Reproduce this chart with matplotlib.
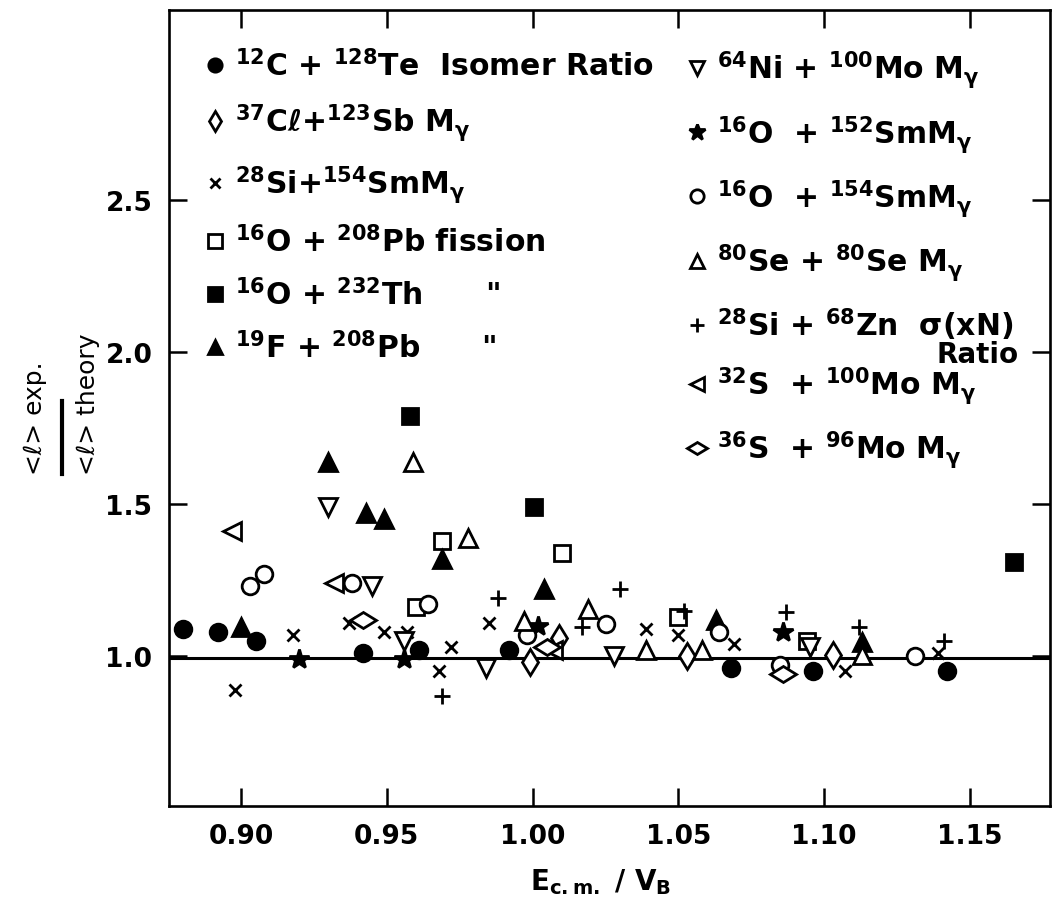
import matplotlib
matplotlib.use('Agg')
import matplotlib.pyplot as plt
from matplotlib.markers import MarkerStyle
from matplotlib.transforms import Affine2D

plt.rcParams['font.family'] = ['DejaVu Sans']
plt.rcParams['mathtext.fontset'] = 'custom'
plt.rcParams['mathtext.rm'] = 'DejaVu Sans:bold'
plt.rcParams['mathtext.it'] = 'DejaVu Sans:bold'
plt.rcParams['mathtext.bf'] = 'DejaVu Sans:bold'
plt.rcParams['mathtext.default'] = 'rm'

# values: x = E_cm / V_B, y = <l>exp / <l>theory
c12_te128_x = [0.880, 0.892, 0.905, 0.942, 0.961, 0.992, 1.068, 1.096, 1.142]
c12_te128_y = [1.09, 1.08, 1.05, 1.01, 1.02, 1.02, 0.96, 0.95, 0.95]

cl37_sb123_x = [0.999, 1.009, 1.053, 1.103]
cl37_sb123_y = [0.98, 1.06, 1.00, 1.005]

si28_sm154_x = [0.898, 0.918, 0.937, 0.949, 0.957, 0.968, 0.972, 0.985, 1.039, 1.050, 1.069, 1.107, 1.139]
si28_sm154_y = [0.89, 1.07, 1.11, 1.08, 1.08, 0.95, 1.03, 1.11, 1.09, 1.07, 1.04, 0.95, 1.01]

o16_pb208_x = [0.960, 0.969, 1.010, 1.050, 1.094]
o16_pb208_y = [1.16, 1.38, 1.34, 1.13, 1.05]

o16_th232_x = [0.958, 1.0005, 1.165]
o16_th232_y = [1.79, 1.49, 1.31]

f19_pb208_x = [0.900, 0.930, 0.943, 0.949, 0.969, 1.004, 1.063, 1.113]
f19_pb208_y = [1.095, 1.64, 1.47, 1.45, 1.32, 1.22, 1.12, 1.045]

ni64_mo100_x = [0.930, 0.945, 0.956, 0.984, 1.028, 1.095]
ni64_mo100_y = [1.49, 1.23, 1.05, 0.96, 1.00, 1.03]

o16_sm152_x = [0.920, 0.956, 1.002, 1.086]
o16_sm152_y = [0.99, 0.99, 1.10, 1.08]

o16_sm154_x = [0.903, 0.908, 0.938, 0.964, 0.998, 1.025, 1.064, 1.085, 1.131]
o16_sm154_y = [1.23, 1.27, 1.24, 1.17, 1.07, 1.105, 1.08, 0.97, 1.00]

se80_se80_x = [0.959, 0.978, 0.997, 1.019, 1.039, 1.058, 1.113]
se80_se80_y = [1.64, 1.39, 1.115, 1.155, 1.02, 1.02, 1.005]

si28_zn68_x = [0.969, 0.988, 1.017, 1.030, 1.052, 1.087, 1.112, 1.141]
si28_zn68_y = [0.87, 1.19, 1.095, 1.22, 1.15, 1.145, 1.095, 1.05]

s32_mo100_x = [0.897, 0.932, 1.007]
s32_mo100_y = [1.41, 1.24, 1.02]

s36_mo96_x = [0.942, 1.005, 1.086]
s36_mo96_y = [1.12, 1.03, 0.94]

ref_level = 0.995

left_labels = [
    r'$^{12}$C + $^{128}$Te  Isomer Ratio',
    r'$^{37}$Cℓ+$^{123}$Sb M$_{\gamma}$',
    r'$^{28}$Si+$^{154}$SmM$_{\gamma}$',
    r'$^{16}$O + $^{208}$Pb fission',
    r'$^{16}$O + $^{232}$Th      "',
    r'$^{19}$F + $^{208}$Pb      "',
]
right_labels = [
    r'$^{64}$Ni + $^{100}$Mo M$_{\gamma}$',
    r'$^{16}$O  + $^{152}$SmM$_{\gamma}$',
    r'$^{16}$O  + $^{154}$SmM$_{\gamma}$',
    r'$^{80}$Se + $^{80}$Se M$_{\gamma}$',
    r'$^{28}$Si + $^{68}$Zn  σ(xN)',
    r'$^{32}$S  + $^{100}$Mo M$_{\gamma}$',
    r'$^{36}$S  + $^{96}$Mo M$_{\gamma}$',
]

lens = MarkerStyle('d', transform=Affine2D().rotate_deg(90))

fig = plt.figure(figsize=(10.58, 9.12), dpi=100)
ax = fig.add_axes([0.1597, 0.1151, 0.8327, 0.8728])

ax.axhline(ref_level, color='black', lw=2.2, zorder=1)

def pts(x, y, marker, ms, filled):
    fc = 'black' if filled else 'white'
    h, = ax.plot(x, y, ls='none', marker=marker, ms=ms, mfc=fc, mec='black',
                 mew=2.0, zorder=3)
    return h

h1 = pts(c12_te128_x, c12_te128_y, 'o', 12, True)
h2 = pts(cl37_sb123_x, cl37_sb123_y, 'd', 13, False)
h3 = pts(si28_sm154_x, si28_sm154_y, 'x', 9, True)
h4 = pts(o16_pb208_x, o16_pb208_y, 's', 12, False)
h5 = pts(o16_th232_x, o16_th232_y, 's', 12, True)
h6 = pts(f19_pb208_x, f19_pb208_y, '^', 13, True)
h7 = pts(ni64_mo100_x, ni64_mo100_y, 'v', 13, False)
h8 = pts(o16_sm152_x, o16_sm152_y, '*', 15, True)
h9 = pts(o16_sm154_x, o16_sm154_y, 'o', 12, False)
h10 = pts(se80_se80_x, se80_se80_y, '^', 13, False)
h11 = pts(si28_zn68_x, si28_zn68_y, '+', 12, True)
h12 = pts(s32_mo100_x, s32_mo100_y, '<', 13, False)
h13 = pts(s36_mo96_x, s36_mo96_y, lens, 13, False)

leg_kw = dict(loc='upper left', frameon=False, handlelength=0.8,
              handletextpad=0.25, borderpad=0, borderaxespad=0, markerscale=0.8,
              prop={'size': 21.5, 'weight': 'bold'})
leg1 = ax.legend([h1, h2, h3, h4, h5, h6], left_labels,
                 bbox_to_anchor=(0.039, 0.951), labelspacing=0.68, **leg_kw)
ax.add_artist(leg1)
ax.legend([h7, h8, h9, h10, h11, h12, h13], right_labels,
          bbox_to_anchor=(0.586, 0.951), labelspacing=0.76, **leg_kw)
ax.text(0.918, 0.568, 'Ratio', transform=ax.transAxes, fontsize=20,
        fontweight='bold', ha='center', va='center')

ax.set_xlim(0.8753, 1.1774)
ax.set_ylim(0.507, 3.125)
ax.set_xticks([0.90, 0.95, 1.00, 1.05, 1.10, 1.15])
ax.set_xticklabels(['0.90', '0.95', '1.00', '1.05', '1.10', '1.15'])
ax.set_yticks([1.0, 1.5, 2.0, 2.5])
ax.set_yticklabels(['1.0', '1.5', '2.0', '2.5'])
ax.tick_params(direction='in', length=13, width=1.8, top=True, right=True,
               labelsize=19, pad=12)
for lab in ax.get_xticklabels() + ax.get_yticklabels():
    lab.set_fontweight('bold')
for sp in ax.spines.values():
    sp.set_linewidth(1.9)

ax.set_xlabel(r'E$_{c.m.}$ / V$_{B}$', fontsize=20, fontweight='bold')
ax.xaxis.set_label_coords(0.49, -0.075)

# y label drawn as a hand-set fraction
fig.text(0.033, 0.479, '<ℓ> exp.', rotation=90, fontsize=18,
         ha='center', va='bottom')
fig.text(0.083, 0.479, '<ℓ> theory', rotation=90, fontsize=18,
         ha='center', va='bottom')
fig.add_artist(plt.Line2D([0.059, 0.059], [0.479, 0.559], color='black',
                          lw=3, transform=fig.transFigure))

fig.savefig('out.png', dpi=100)
